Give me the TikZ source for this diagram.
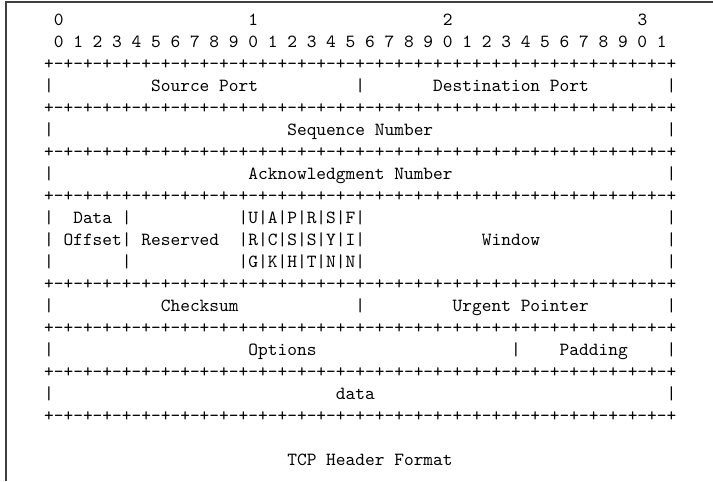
\documentclass[tikz,border=0pt]{standalone}
\newcommand\hdrrule{+-+-+-+-+-+-+-+-+-+-+-+-+-+-+-+-+-+-+-+-+-+-+-+-+-+-+-+-+-+-+-+-+}
\tikzset{
  cell/.style={anchor=base west, inner sep=0pt, outer sep=0pt, font=\ttfamily},
  frameline/.style={line width=0.9pt, black!75},
}
\begin{document}
\begin{tikzpicture}
\useasboundingbox (0,0) rectangle (384.8pt,-259.6pt);
% partial frame (top and left edges)
\draw[frameline] (3.2pt,-259.6pt) |- (384.8pt,-1.1pt);

% character grid: one unit = one monospaced cell / one text line
\begin{scope}[x=5.25pt, y=-11.87pt, shift={(23.8pt,-13.86pt)}]
  % bit numbering
  \node[cell] (tens0) at (1,0) {0};
  \node[cell] (tens1) at (21,0) {1};
  \node[cell] (tens2) at (41,0) {2};
  \node[cell] (tens3) at (61,0) {3};
  \node[cell] (units) at (1,1) {0 1 2 3 4 5 6 7 8 9 0 1 2 3 4 5 6 7 8 9 0 1 2 3 4 5 6 7 8 9 0 1};

  % separator rules
  \foreach \k in {2,4,6,8,12,14,16,18}
    \node[cell] (rule\k) at (0,\k) {\hdrrule};

  % row: ports
  \node[cell] (p3a) at (0,3) {|};
  \node[cell] (srcport) at (11,3) {Source Port};
  \node[cell] (p3b) at (32,3) {|};
  \node[cell] (dstport) at (40,3) {Destination Port};
  \node[cell] (p3c) at (64,3) {|};

  % row: sequence number
  \node[cell] (p5a) at (0,5) {|};
  \node[cell] (seqnum) at (25,5) {Sequence Number};
  \node[cell] (p5b) at (64,5) {|};

  % row: acknowledgment number
  \node[cell] (p7a) at (0,7) {|};
  \node[cell] (acknum) at (21,7) {Acknowledgment Number};
  \node[cell] (p7b) at (64,7) {|};

  % rows: offset, reserved, flags, window
  \node[cell] (p9a) at (0,9) {|};
  \node[cell] (data1) at (3,9) {Data};
  \node[cell] (p9b) at (8,9) {|};
  \node[cell] (flags1) at (20,9) {|U|A|P|R|S|F|};
  \node[cell] (p9c) at (64,9) {|};

  \node[cell] (p10a) at (0,10) {|};
  \node[cell] (offset) at (2,10) {Offset|};
  \node[cell] (reserved) at (10,10) {Reserved};
  \node[cell] (flags2) at (20,10) {|R|C|S|S|Y|I|};
  \node[cell] (window) at (45,10) {Window};
  \node[cell] (p10b) at (64,10) {|};

  \node[cell] (p11a) at (0,11) {|};
  \node[cell] (p11b) at (8,11) {|};
  \node[cell] (flags3) at (20,11) {|G|K|H|T|N|N|};
  \node[cell] (p11c) at (64,11) {|};

  % row: checksum, urgent pointer
  \node[cell] (p13a) at (0,13) {|};
  \node[cell] (checksum) at (12,13) {Checksum};
  \node[cell] (p13b) at (32,13) {|};
  \node[cell] (urgent) at (42,13) {Urgent Pointer};
  \node[cell] (p13c) at (64,13) {|};

  % row: options, padding
  \node[cell] (p15a) at (0,15) {|};
  \node[cell] (options) at (21,15) {Options};
  \node[cell] (p15b) at (48,15) {|};
  \node[cell] (padding) at (53,15) {Padding};
  \node[cell] (p15c) at (64,15) {|};

  % row: data
  \node[cell] (p17a) at (0,17) {|};
  \node[cell] (payload) at (30,17) {data};
  \node[cell] (p17b) at (64,17) {|};

  % caption
  \node[cell] (caption) at (25,20) {TCP Header Format};
\end{scope}
\end{tikzpicture}
\end{document}
